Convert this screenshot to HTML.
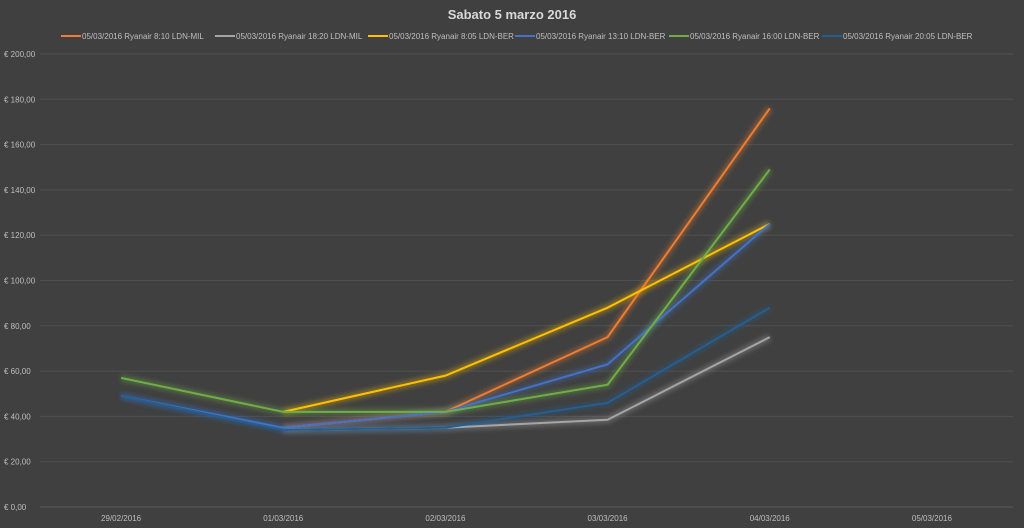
<!DOCTYPE html>
<html><head><meta charset="utf-8"><style>
html,body{margin:0;padding:0;background:#404040;}
svg{display:block;font-family:"Liberation Sans",sans-serif;}
</style></head><body>
<svg id="chart" width="1024" height="528" viewBox="0 0 1024 528">
<defs><filter id="glow" x="-10%" y="-10%" width="120%" height="120%"><feGaussianBlur stdDeviation="2.5"/></filter></defs>
<rect width="1024" height="528" fill="#404040"/>
<text x="512" y="19" text-anchor="middle" fill="#d9d9d9" font-size="13" font-weight="bold">Sabato 5 marzo 2016</text>
<g id="grid"></g><g id="glows"></g><g id="lines"></g><g id="legend"></g>
</svg>
<script>
const categories=["29/02/2016","01/03/2016","02/03/2016","03/03/2016","04/03/2016","05/03/2016"];
const yTicks=[0,20,40,60,80,100,120,140,160,180,200];
const seriesNames=["05/03/2016 Ryanair 8:10 LDN-MIL","05/03/2016 Ryanair 18:20 LDN-MIL","05/03/2016 Ryanair 8:05 LDN-BER","05/03/2016 Ryanair 13:10 LDN-BER","05/03/2016 Ryanair 16:00 LDN-BER","05/03/2016 Ryanair 20:05 LDN-BER"];
const s810=[null,35,42,75,176,null];
const s1820=[null,34,35,38.5,75,null];
const s805=[null,42,58,88,125,null];
const s1310=[49,35,42,63,125,null];
const s1600=[57,42,42,54,149,null];
const s2005=[49,34,35,46,88,null];
const seriesValues=[s810,s1820,s805,s1310,s1600,s2005];
const colors=["#ed7d31","#a5a5a5","#ffc000","#4472c4","#70ad47","#255e91"];
const NS="http://www.w3.org/2000/svg";
const L=40,R=1013,T=54,B=507;
const x=i=>L+(R-L)/categories.length*(i+0.5);
const y=v=>B-(v/200)*(B-T);
const grid=document.getElementById('grid');
yTicks.forEach(t=>{
 const ln=document.createElementNS(NS,'line');
 
 
 ln.setAttribute('x1',L);ln.setAttribute('x2',R);ln.setAttribute('y1',y(t));ln.setAttribute('y2',y(t));
 ln.setAttribute('stroke',t===0?'#5a5a5a':'#4f4f4f');ln.setAttribute('stroke-width','1');
 grid.appendChild(ln);
 const tx=document.createElementNS(NS,'text');
 
 
 tx.setAttribute('x',4);tx.setAttribute('y',y(t)+3);tx.setAttribute('fill','#bfbfbf');tx.setAttribute('font-size','8');
 tx.textContent='€ '+t+',00';
 grid.appendChild(tx);
});
categories.forEach((c,i)=>{
 const tx=document.createElementNS(NS,'text');
 
 
 tx.setAttribute('x',x(i));tx.setAttribute('y',521);tx.setAttribute('text-anchor','middle');tx.setAttribute('fill','#bfbfbf');tx.setAttribute('font-size','8');
 tx.textContent=c;
 grid.appendChild(tx);
});
const glows=document.getElementById('glows'),lines=document.getElementById('lines');
seriesValues.forEach((vals,k)=>{
 const pts=[];vals.forEach((v,i)=>{if(v!==null)pts.push(x(i)+','+y(v));});
 const g=document.createElementNS(NS,'polyline');
 
 
 g.setAttribute('points',pts.join(' '));g.setAttribute('fill','none');g.setAttribute('stroke',colors[k]);g.setAttribute('stroke-width','7');g.setAttribute('opacity','0.35');g.setAttribute('filter','url(#glow)');
 glows.appendChild(g);
 const p=document.createElementNS(NS,'polyline');
 
 
 p.setAttribute('points',pts.join(' '));p.setAttribute('fill','none');p.setAttribute('stroke',colors[k]);p.setAttribute('stroke-width','2');
 lines.appendChild(p);
});
const leg=document.getElementById('legend');
const lx=[61,215,368,515,669,822];
seriesNames.forEach((n,k)=>{
 const ln=document.createElementNS(NS,'line');
 
 
 ln.setAttribute('x1',lx[k]);ln.setAttribute('x2',lx[k]+20);ln.setAttribute('y1',36);ln.setAttribute('y2',36);ln.setAttribute('stroke',colors[k]);ln.setAttribute('stroke-width','2');
 leg.appendChild(ln);
 const tx=document.createElementNS(NS,'text');
 
 
 tx.setAttribute('x',lx[k]+21);tx.setAttribute('y',39);tx.setAttribute('fill','#bfbfbf');tx.setAttribute('font-size','8');
 tx.textContent=n;
 leg.appendChild(tx);
});
</script>
</body></html>
